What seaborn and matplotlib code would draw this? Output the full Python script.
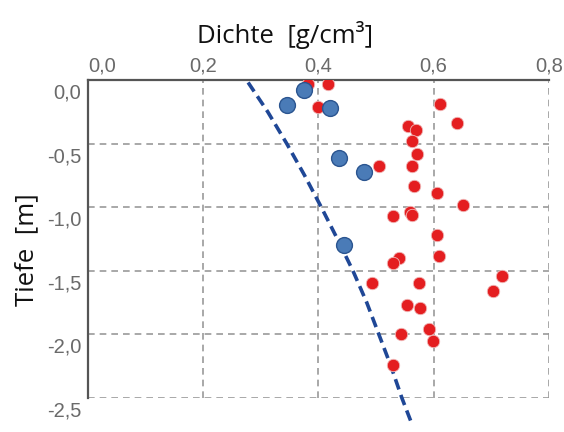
import matplotlib
matplotlib.use("Agg")
import matplotlib.pyplot as plt
import matplotlib.transforms as mtransforms
import seaborn as sns
import pandas as pd

# Blue points (Dichte, Tiefe)
blue_x = [0.375, 0.346, 0.421, 0.436, 0.480, 0.444]
blue_y = [-0.08, -0.20, -0.22, -0.61, -0.72, -1.30]

# Red points (Dichte, Tiefe)
red_x = [0.382, 0.416, 0.400, 0.611, 0.640, 0.556, 0.570, 0.562, 0.571, 0.506, 0.563,
         0.566, 0.606, 0.651, 0.529, 0.559, 0.563, 0.606, 0.609, 0.540, 0.530, 0.718,
         0.493, 0.574, 0.704, 0.554, 0.577, 0.592, 0.544, 0.599, 0.529]
red_y = [-0.03, -0.03, -0.21, -0.19, -0.34, -0.36, -0.39, -0.48, -0.58, -0.68, -0.68,
         -0.83, -0.89, -0.98, -1.07, -1.04, -1.06, -1.22, -1.38, -1.40, -1.44, -1.54,
         -1.60, -1.60, -1.66, -1.77, -1.79, -1.96, -2.00, -2.05, -2.24]

# Dashed model curve (Dichte, Tiefe)
curve_x = [0.278, 0.312, 0.345, 0.376, 0.405, 0.433, 0.460, 0.484, 0.505, 0.526, 0.545, 0.562]
curve_y = [-0.02, -0.25, -0.50, -0.75, -1.00, -1.25, -1.50, -1.75, -2.00, -2.25, -2.50, -2.70]

x_ticks = [0.0, 0.2, 0.4, 0.6, 0.8]
x_labels = ["0,0", "0,2", "0,4", "0,6", "0,8"]
y_ticks = [0.0, -0.5, -1.0, -1.5, -2.0, -2.5]
y_labels = ["0,0", "-0,5", "-1,0", "-1,5", "-2,0", "-2,5"]

sns.set_style("white")
plt.rcParams['font.family'] = ['Liberation Sans', 'DejaVu Sans']

fig = plt.figure(figsize=(5.64, 4.32), dpi=100)
ax = fig.add_axes([0.156, 0.0787, 0.817, 0.7363])

df_curve = pd.DataFrame({"x": curve_x, "y": curve_y})
df_blue = pd.DataFrame({"x": blue_x, "y": blue_y})
df_red = pd.DataFrame({"x": red_x, "y": red_y})

ax.set_xlim(0, 0.8)
ax.set_ylim(-2.5, 0)

# grid
for xv in x_ticks[1:]:
    ax.axvline(xv, color="#9a9a9a", lw=1.2, ls=(0, (4, 3)), zorder=0)
for yv in y_ticks[1:]:
    ax.axhline(yv, color="#9a9a9a", lw=1.2, ls=(0, (4, 3)), zorder=0)

sns.lineplot(data=df_curve, x="x", y="y", sort=False, ax=ax, color="#1f4796",
             lw=2.6, dashes=False, zorder=2)
ax.lines[-1].set_linestyle((0, (3.0, 1.6)))
ax.lines[-1].set_clip_on(False)

sns.scatterplot(data=df_red, x="x", y="y", ax=ax, color="#e41e20", s=80,
                edgecolor="#f0b8b8", linewidth=0.6, zorder=3)
sns.scatterplot(data=df_blue, x="x", y="y", ax=ax, color="#4a7bb7", s=130,
                edgecolor="#2b5590", linewidth=1.0, zorder=4)

ax.set_xlabel("")
ax.set_ylabel("")

ax.xaxis.tick_top()
ax.set_xticks(x_ticks)
ax.set_xticklabels(x_labels)
ax.set_yticks(y_ticks)
ax.set_yticklabels(y_labels)
ax.tick_params(axis="both", length=0, labelsize=14.5, labelcolor="#6a6a6a")
ax.tick_params(axis="x", pad=3)
ax.tick_params(axis="y", pad=5)
offset = mtransforms.ScaledTranslation(0, -11 / 100, fig.dpi_scale_trans)
for lab in ax.get_yticklabels():
    lab.set_transform(lab.get_transform() + offset)
ax.get_xticklabels()[0].set_horizontalalignment("left")

for side in ["right", "bottom"]:
    ax.spines[side].set_visible(False)
for side in ["left", "top"]:
    ax.spines[side].set_color("#555555")
    ax.spines[side].set_linewidth(1.6)

fig.text(0.505, 0.918, "Dichte  [g/cm³]", ha="center", va="center",
         fontsize=18.5, family=["Open Sans", "DejaVu Sans"], color="#111111")
fig.text(0.047, 0.423, "Tiefe  [m]", ha="center", va="center", rotation=90,
         fontsize=18.5, family=["Open Sans", "DejaVu Sans"], color="#111111")

fig.savefig("out.png", dpi=100)
